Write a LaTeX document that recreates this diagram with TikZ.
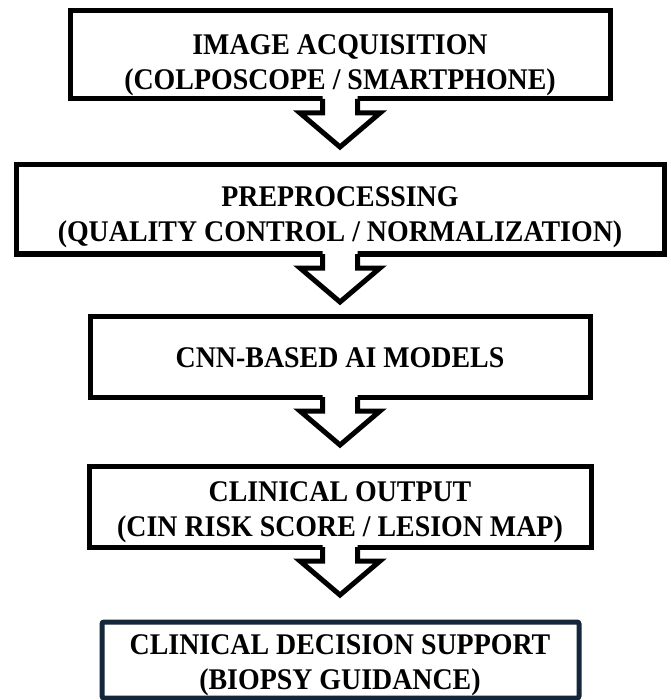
\documentclass[tikz,border=0pt]{standalone}
\usepackage{fontspec}
\setmainfont{Liberation Serif}[FakeStretch=0.93]
\usetikzlibrary{calc}
\definecolor{navy}{HTML}{14263A}
\tikzset{
  box/.style={draw=black, line width=5pt, fill=white, outer sep=0pt, inner sep=0pt},
  lastbox/.style={box, draw=navy, rounded corners=2pt},
  txt/.style={align=center, inner sep=0pt, font=\fontsize{30}{35}\selectfont\bfseries},
  blockarrow/.style={draw=black, line width=5pt, miter limit=10},
}
\newcommand\flowarrow[1]{%
  \fill[white] ($(#1.south)+(-17.5,-3)$) -- ($(#1.south)+(-17.5,14)$) -- ($(#1.south)+(-40,14)$) -- ($(#1.south)+(0,48)$) -- ($(#1.south)+(40,14)$) -- ($(#1.south)+(17.5,14)$) -- ($(#1.south)+(17.5,-3)$) -- cycle;
  \draw[blockarrow] ($(#1.south)+(-17.5,0)$) -- ($(#1.south)+(-17.5,14)$) -- ($(#1.south)+(-40,14)$) -- ($(#1.south)+(0,48)$) -- ($(#1.south)+(40,14)$) -- ($(#1.south)+(17.5,14)$) -- ($(#1.south)+(17.5,0)$);
}
\begin{document}
\begin{tikzpicture}[x=1pt, y=-1pt]
\useasboundingbox (0,0) rectangle (670,700);
\node[box, minimum width=540pt, minimum height=88pt] (b1) at (340,55) {};
\node[box, minimum width=648pt, minimum height=89pt] (b2) at (340,209.5) {};
\node[box, minimum width=500pt, minimum height=81pt] (b3) at (340,356.5) {};
\node[box, minimum width=502pt, minimum height=81pt] (b4) at (340,506.5) {};
\node[lastbox, minimum width=477pt, minimum height=76pt] (b5) at (340.5,660) {};
\flowarrow{b1}
\flowarrow{b2}
\flowarrow{b3}
\flowarrow{b4}
\node[txt] (t1) at (340,65) {IMAGE ACQUISITION\\(COLPOSCOPE / SMARTPHONE)};
\node[txt] (t2) at (340,217) {PREPROCESSING\\(QUALITY CONTROL / NORMALIZATION)};
\node[txt] (t3) at (340,358) {CNN-BASED AI MODELS};
\node[txt] (t4) at (340,512) {CLINICAL OUTPUT\\(CIN RISK SCORE / LESION MAP)};
\node[txt] (t5) at (340,665) {CLINICAL DECISION SUPPORT\\(BIOPSY GUIDANCE)};
\end{tikzpicture}
\end{document}
